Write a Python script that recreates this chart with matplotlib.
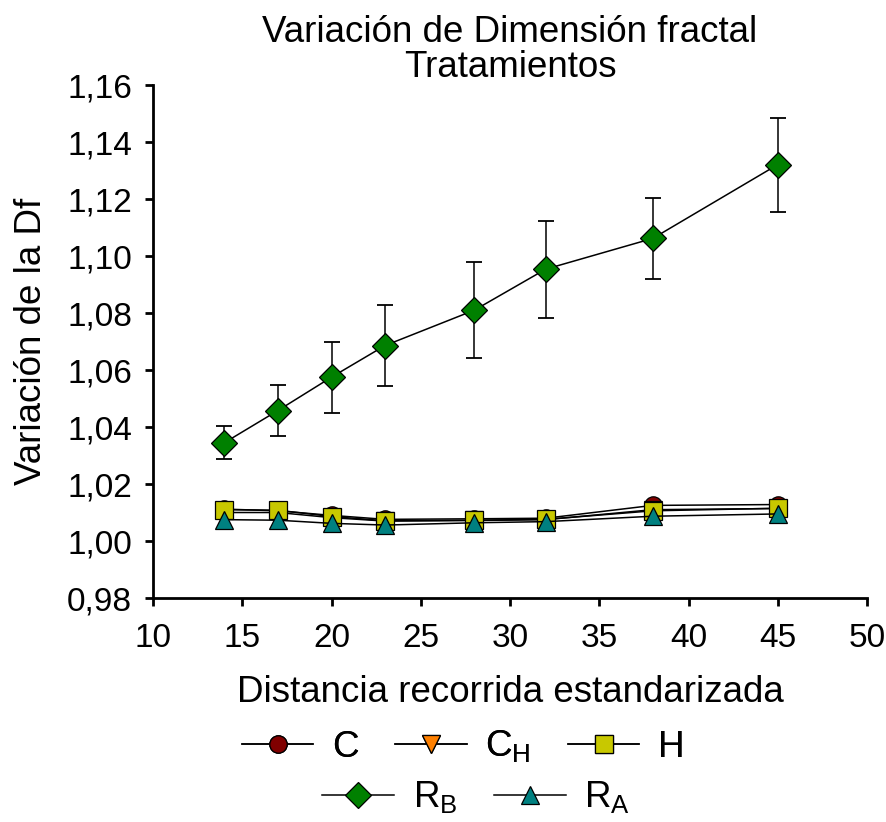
import numpy as np
import matplotlib
matplotlib.use('Agg')
import matplotlib.pyplot as plt
from matplotlib.ticker import FuncFormatter, MultipleLocator
from matplotlib.lines import Line2D

plt.rcParams['font.family'] = ['Liberation Sans', 'DejaVu Sans']

# distancias
dist = [14, 17, 20, 23, 28, 32, 38, 45]

# valores de Df por tratamiento
df_c = [1.0112, 1.0106, 1.0090, 1.0076, 1.0078, 1.0080, 1.0125, 1.0128]
df_ch = [1.0100, 1.0100, 1.0082, 1.0070, 1.0072, 1.0075, 1.0110, 1.0114]
df_h = [1.0110, 1.0108, 1.0086, 1.0071, 1.0073, 1.0076, 1.0106, 1.0115]
df_rb = [1.0345, 1.0458, 1.0575, 1.0686, 1.0810, 1.0954, 1.1062, 1.1321]
df_ra = [1.0075, 1.0073, 1.0062, 1.0056, 1.0064, 1.0068, 1.0087, 1.0095]

# error de R_B
err_rb = [0.0057, 0.0091, 0.0125, 0.0143, 0.0168, 0.0170, 0.0142, 0.0165]

series = [
    ('C', df_c, 'o', '#800000'),
    ('C$_\\mathregular{H}$', df_ch, 'v', '#FF8000'),
    ('H', df_h, 's', '#C8C800'),
    ('R$_\\mathregular{B}$', df_rb, 'D', '#008000'),
    ('R$_\\mathregular{A}$', df_ra, '^', '#008080'),
]

fs = 26.5

fig = plt.figure(figsize=(8.87, 8.22), dpi=100)
ax = fig.add_axes([0.1725, 0.2725, 0.805, 0.624])

handles = []
for name, vals, mk, col in series:
    ms = 12.5 if mk != 'D' else 13.5
    if name.startswith('R$_\\mathregular{B}'):
        ax.errorbar(dist, vals, yerr=err_rb, fmt='none', ecolor='black',
                    elinewidth=1.1, capsize=6, capthick=1.3, zorder=2)
    ax.plot(dist, vals, color='black', linewidth=1.1, marker=mk,
            markersize=ms, markerfacecolor=col, markeredgecolor='black',
            markeredgewidth=0.9, zorder=3)
    handles.append(Line2D([], [], color='black', linewidth=1.1, marker=mk,
                          markersize=ms, markerfacecolor=col,
                          markeredgecolor='black', markeredgewidth=0.9,
                          label=name))

ax.set_xlim(10, 50)
ax.set_ylim(0.98, 1.16)
ax.xaxis.set_major_locator(MultipleLocator(5))
ax.yaxis.set_major_locator(MultipleLocator(0.02))
ax.yaxis.set_major_formatter(FuncFormatter(lambda v, p: ('%.2f' % v).replace('.', ',')))

for s in ['top', 'right']:
    ax.spines[s].set_visible(False)
for s in ['left', 'bottom']:
    ax.spines[s].set_linewidth(2)
ax.tick_params(direction='out', length=6, width=2, labelsize=24, pad=9)
ax.tick_params(axis='x', pad=12)

ax.set_title('Variación de Dimensión fractal\nTratamientos', fontsize=fs, pad=5,
             linespacing=1.0)
ax.set_xlabel('Distancia recorrida estandarizada', fontsize=fs, labelpad=15)
ax.set_ylabel('Variación de la Df', fontsize=fs, labelpad=13)

leg1 = fig.legend(handles=handles[:3], loc='center', ncol=3,
                  bbox_to_anchor=(0.522, 0.091), frameon=False, fontsize=fs,
                  handlelength=1.95, columnspacing=1.0, handletextpad=0.5)
leg2 = fig.legend(handles=handles[3:], loc='center', ncol=2,
                  bbox_to_anchor=(0.537, 0.029), frameon=False, fontsize=fs,
                  handlelength=1.95, columnspacing=1.0, handletextpad=0.5)
fig.add_artist(leg1)

fig.savefig('out.png', dpi=100)
